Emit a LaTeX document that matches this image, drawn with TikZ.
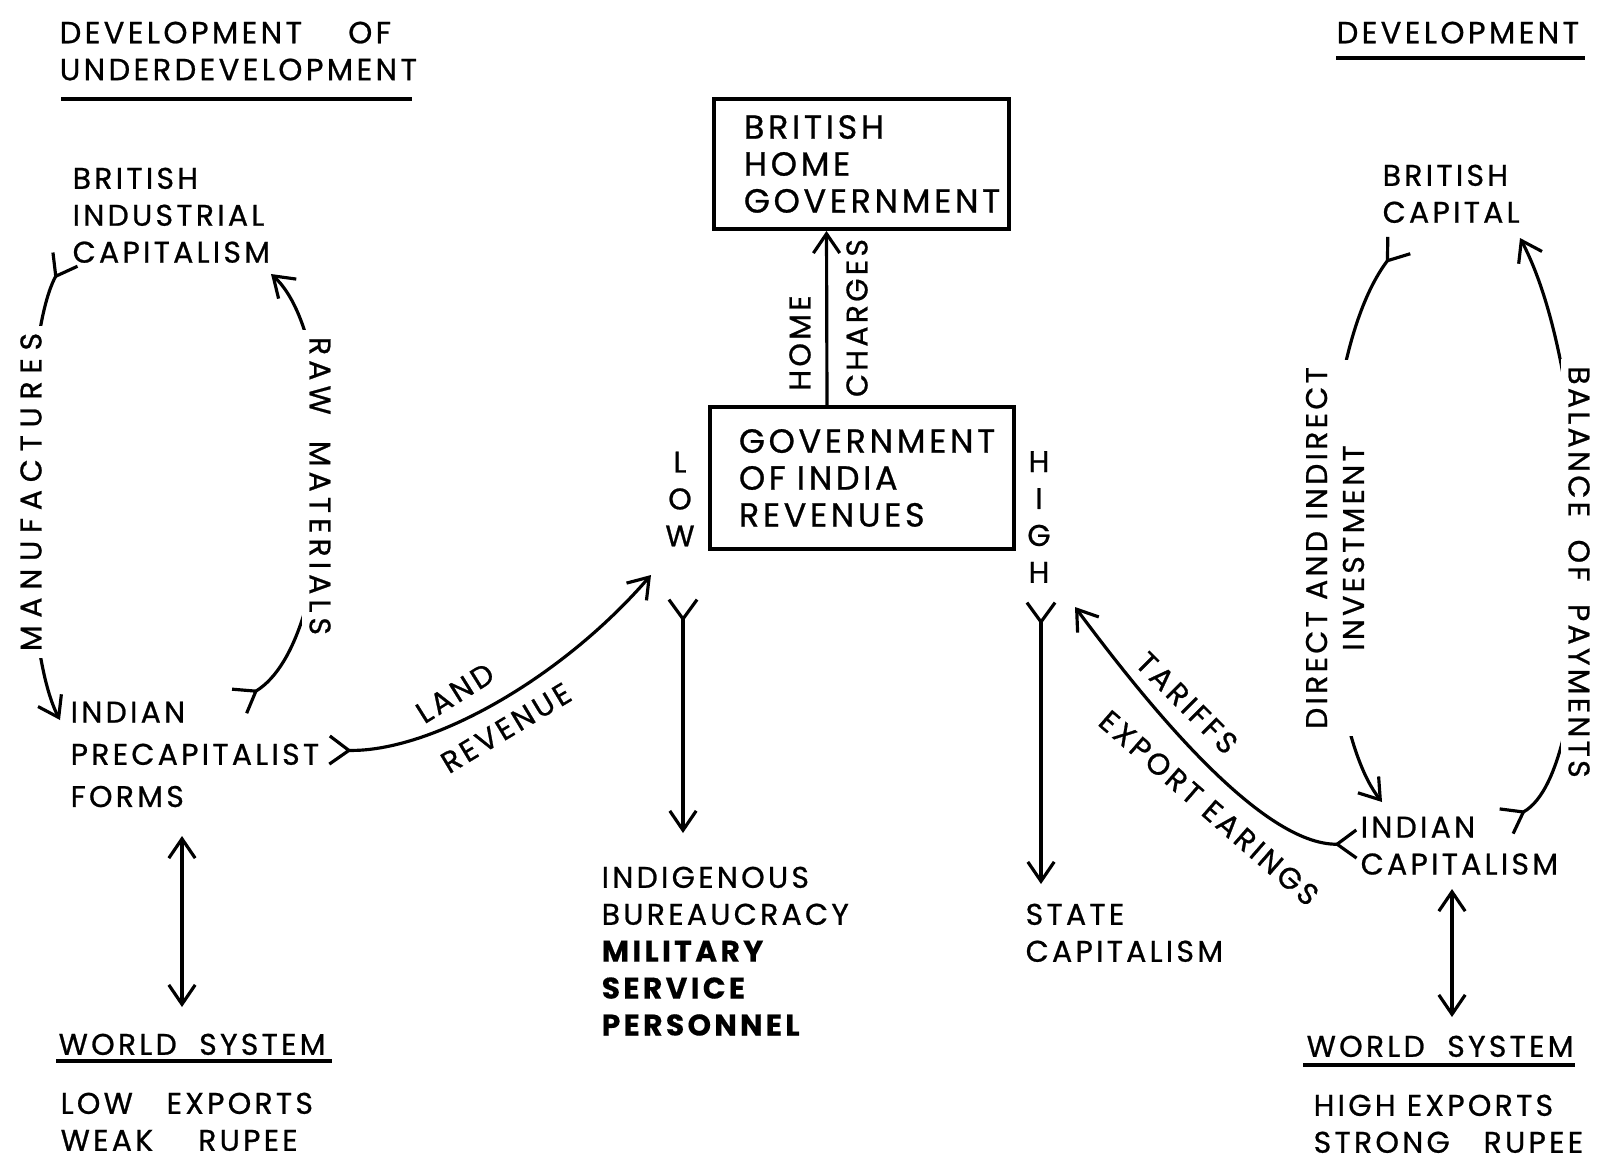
\documentclass[tikz,border=0pt]{standalone}
\usepackage{fontspec}
\setmainfont{Poppins}[LetterSpace=11, UprightFeatures={FakeBold=0.8}, BoldFeatures={FakeBold=0.3}]
\usetikzlibrary{arrows.meta}

\begin{document}
\begin{tikzpicture}[x=0.01cm, y=-0.01cm,
  lbl/.style={font=\fontsize{8.5}{10.5}\selectfont, align=left, inner sep=0pt, anchor=north west},
  tag/.style={font=\fontsize{8.5}{10.5}\selectfont, inner sep=2pt, fill=white},
  flow/.style={line width=0.9pt, -{Straight Barb[length=5.5pt,width=7.5pt]}},
  fork/.style={line width=0.9pt, {Straight Barb[reversed,length=5.5pt,width=8pt]}-{Straight Barb[length=5.5pt,width=7.5pt]}},
  both/.style={line width=0.9pt, {Straight Barb[length=5.5pt,width=7.5pt]}-{Straight Barb[length=5.5pt,width=7.5pt]}},
  rule/.style={line width=1.2pt},
  govbox/.style={draw, line width=1.1pt, font=\fontsize{9.5}{10.5}\selectfont, align=left, inner sep=0pt, anchor=north west}]
  \useasboundingbox (0,0) rectangle (1603,1163);

  % headings
  \node[lbl, font=\fontsize{8.7}{10.5}\selectfont] (headL) at (59,21) {DEVELOPMENT\ \ \ \ OF\\UNDERDEVELOPMENT};
  \draw[rule] (61,99) -- (412,99);
  \node[lbl, font=\fontsize{8.7}{10.5}\selectfont] (headR) at (1336,21) {DEVELOPMENT};
  \draw[rule] (1336,58) -- (1585,58);

  % left side
  \node[lbl] (bic) at (72,167) {BRITISH\\INDUSTRIAL\\CAPITALISM};
  \node[lbl] (ipf) at (70,701) {INDIAN\\[1.5pt]PRECAPITALIST\\[1.5pt]FORMS};
  \node[lbl] (wsL) at (58,1033) {WORLD\ \ SYSTEM};
  \draw[rule] (56,1061) -- (332,1061);
  \node[lbl] (loexp) at (60,1092) {LOW\ \ \ EXPORTS\\WEAK\ \ \ \ RUPEE};

  % centre
  \node[govbox, minimum width=2.95cm, minimum height=1.3cm, text width=2.35cm] (bhg) at (712,97) {BRITISH\\HOME\\GOVERNMENT};
  \node[govbox, minimum width=3.04cm, minimum height=1.42cm, text width=2.46cm] (gir) at (708,405) {GOVERNMENT\\OF INDIA\\REVENUES};
  \node[lbl, anchor=center, align=center] (low) at (680,499) {L\\O\\W};
  \node[lbl, anchor=center, align=center] (high) at (1039,517) {H\\I\\G\\H};
  \node[lbl] (indig) at (601,866) {INDIGENOUS\\BUREAUCRACY\\\textbf{MILITARY}\\\textbf{SERVICE}\\\textbf{PERSONNEL}};
  \node[lbl] (state) at (1025,903) {STATE\\CAPITALISM};

  % right side
  \node[lbl] (bc) at (1382,164) {BRITISH\\CAPITAL};
  \node[lbl] (ic) at (1360,816) {INDIAN\\CAPITALISM};
  \node[lbl] (wsR) at (1306,1035) {WORLD\ \ SYSTEM};
  \draw[rule] (1303,1065) -- (1575,1065);
  \node[lbl] (hiexp) at (1313,1094) {HIGH EXPORTS\\STRONG\ \ \ RUPEE};

  \coordinate (ms) at (66,258);
  \coordinate (me) at (60,720);
  \coordinate (rs) at (238,702);
  \coordinate (re) at (271,274);
  \coordinate (ls) at (328,750);
  \coordinate (le) at (651,575);
  \coordinate (lowtop) at (683,598);
  \coordinate (lowend) at (683,833);
  \coordinate (hightop) at (1041,601);
  \coordinate (highend) at (1041,884);
  \coordinate (ts) at (1358,844);
  \coordinate (te) at (1075,607);
  \coordinate (ds) at (1400,244);
  \coordinate (de) at (1382,802);
  \coordinate (bs) at (1505,822);
  \coordinate (be) at (1520,238);

  % connectors
  \draw[fork] (ms) .. controls (20,340) and (18,640) .. (me);
  \draw[fork] (rs) .. controls (340,640) and (344,340) .. (re);
  \draw[fork] (ls) .. controls (430,752) and (560,680) .. (le);
  \draw[flow] ([xshift=-0.35cm]gir.north) -- ([xshift=-0.35cm]bhg.south);
  \draw[fork] (lowtop) -- (lowend);
  \draw[fork] (hightop) -- (highend);
  \draw[fork] (ts) .. controls (1262,845) and (1150,708) .. (te);
  \draw[fork] (ds) .. controls (1305,370) and (1314,716) .. (de);
  \draw[fork] (bs) .. controls (1600,770) and (1598,386) .. (be);
  \draw[both] (182,836) -- (182,1007);
  \draw[both] (1452,889) -- (1452,1017);

  % labels on the arrows
  \node[tag, rotate=90] (manuf) at (31,492) {\addfontfeature{LetterSpace=26}MANUFACTURES};
  \node[tag, rotate=-90] (raw) at (320,486) {\addfontfeature{LetterSpace=17}RAW\ \ MATERIALS};
  \node[lbl, anchor=center, rotate=32] (land) at (455,693) {LAND};
  \node[lbl, anchor=center, rotate=31] (rev) at (506,728) {REVENUE};
  \node[lbl, anchor=center, rotate=90] (homel) at (800,343) {HOME};
  \node[lbl, anchor=center, rotate=90] (charges) at (857,318) {CHARGES};
  \node[lbl, anchor=center, rotate=-45] (tariffs) at (1187,703) {TARIFFS};
  \node[lbl, anchor=center, rotate=-41] (export) at (1209,808) {EXPORT EARINGS};
  \node[tag, rotate=90, align=center] (dii) at (1335,548) {DIRECT AND INDIRECT\\INVESTMENT};
  \node[tag, rotate=-90] (bop) at (1579,572) {BALANCE\ \ OF\ \ PAYMENTS};
\end{tikzpicture}
\end{document}
